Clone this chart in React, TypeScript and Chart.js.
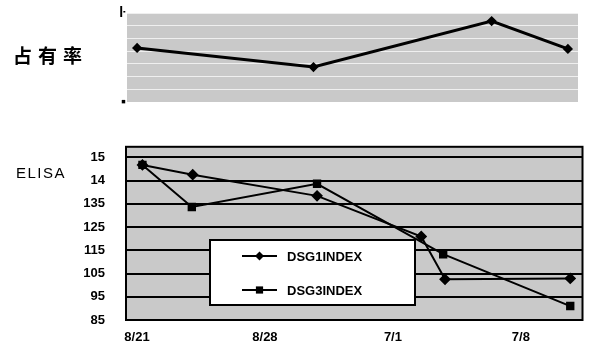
import { useEffect, useRef } from "react";
import { Chart, registerables } from "chart.js";

Chart.register(...registerables);

// 占有率 panel
const shareDays = [0, 9.6, 19.3, 23.45];
const shareValues = [60.7, 39.3, 91, 59.6];
const shareTickLabels = ["ŀ", "▪"]; // top, bottom

// ELISA panel
const dateTickDays = [0, 7, 14, 21];
const dateTickLabels = ["8/21", "8/28", "7/1", "7/8"];
const elisaTickValues = [8.5, 9.5, 10.5, 11.5, 12.5, 13.5, 14.5, 15.5];
const elisaTickLabels = ["85", "95", "105", "115", "125", "135", "14", "15"];
const seriesNames = ["DSG1INDEX", "DSG3INDEX"];
const dsg1Days = [0.3, 3.05, 9.85, 15.55, 16.85, 23.7];
const dsg1Values = [15.17, 14.75, 13.84, 12.09, 10.25, 10.29];
const dsg3Days = [0.3, 3.0, 9.85, 16.75, 23.7];
const dsg3Values = [15.17, 13.36, 14.36, 11.33, 9.1];

const SANS = "'Liberation Sans', Arial, sans-serif";
const PANEL_GRAY = "#c9c9c9";

const toPoints = (xs: number[], ys: number[]) => xs.map((x, i) => ({ x, y: ys[i] }));

// Fills the plotting area with the panel colour
const panelFill = {
  id: "panelFill",
  beforeDraw(chart: any, _args: any, opts: any) {
    const { ctx, chartArea: a } = chart;
    ctx.save();
    ctx.fillStyle = opts.color;
    ctx.fillRect(a.left, a.top, a.right - a.left, a.bottom - a.top);
    ctx.restore();
  },
};

// Black frame around the plotting area
const panelFrame = {
  id: "panelFrame",
  beforeDatasetsDraw(chart: any, _args: any, opts: any) {
    if (!opts.show) return;
    const { ctx, chartArea: a } = chart;
    ctx.save();
    ctx.strokeStyle = "#000";
    ctx.lineWidth = 2;
    ctx.strokeRect(a.left, a.top, a.right - a.left, a.bottom - a.top);
    ctx.restore();
  },
};

// Horizontal caption on the left of a panel
const sideCaption = {
  id: "sideCaption",
  afterDraw(chart: any, _args: any, opts: any) {
    const { ctx } = chart;
    ctx.save();
    ctx.font = opts.font;
    ctx.fillStyle = "#000";
    ctx.textAlign = "left";
    ctx.textBaseline = "middle";
    if ("letterSpacing" in ctx) (ctx as any).letterSpacing = opts.spacing || "0px";
    ctx.fillText(opts.text, opts.x, opts.y);
    ctx.restore();
  },
};

// Boxed legend sitting inside the plot
const boxLegend = {
  id: "boxLegend",
  afterDraw(chart: any, _args: any, o: any) {
    const { ctx } = chart;
    ctx.save();
    ctx.fillStyle = "#fff";
    ctx.fillRect(o.x, o.y, o.w, o.h);
    ctx.strokeStyle = "#000";
    ctx.lineWidth = 2;
    ctx.strokeRect(o.x, o.y, o.w, o.h);
    chart.data.datasets.forEach((ds: any, i: number) => {
      const y = o.y + o.row0 + i * o.rowGap;
      ctx.strokeStyle = "#000";
      ctx.lineWidth = 2;
      ctx.beginPath();
      ctx.moveTo(o.x + o.lineFrom, y);
      ctx.lineTo(o.x + o.lineTo, y);
      ctx.stroke();
      const cx = o.x + (o.lineFrom + o.lineTo) / 2;
      const r = ds.pointRadius;
      ctx.fillStyle = "#000";
      ctx.beginPath();
      if (ds.pointStyle === "rectRot") {
        ctx.moveTo(cx, y - r);
        ctx.lineTo(cx + r, y);
        ctx.lineTo(cx, y + r);
        ctx.lineTo(cx - r, y);
        ctx.closePath();
      } else {
        ctx.rect(cx - r * 0.8, y - r * 0.8, r * 1.6, r * 1.6);
      }
      ctx.fill();
      ctx.font = o.font;
      ctx.textAlign = "left";
      ctx.textBaseline = "middle";
      ctx.fillText(ds.label, o.x + o.textX, y + 1);
    });
    ctx.restore();
  },
};

export default function App() {
  const topRef = useRef<HTMLCanvasElement>(null);
  const bottomRef = useRef<HTMLCanvasElement>(null);

  useEffect(() => {
    const shareTicks = Array.from({ length: 8 }, (_, i) => (i * 100) / 7);
    const top = new Chart(topRef.current!, {
      type: "line",
      data: {
        datasets: [
          {
            label: "占有率",
            data: toPoints(shareDays, shareValues),
            borderColor: "#000",
            backgroundColor: "#000",
            borderWidth: 3,
            pointStyle: "rectRot",
            pointRadius: 3,
            tension: 0,
          },
        ],
      },
      options: {
        responsive: false,
        animation: false,
        layout: { padding: { top: 13, right: 11, bottom: 16, left: 0 } },
        scales: {
          x: { type: "linear", display: false, min: -0.55, max: 24 },
          y: {
            min: 0,
            max: 100,
            afterBuildTicks: (s: any) => {
              s.ticks = shareTicks.map((v) => ({ value: v }));
            },
            afterFit: (s: any) => {
              s.width = 127;
            },
            ticks: {
              autoSkip: false,
              padding: 1,
              color: "#000",
              font: { family: SANS, size: 14, weight: "bold" },
              callback: (_v: any, i: number) =>
                i === shareTicks.length - 1 ? shareTickLabels[0] : i === 0 ? shareTickLabels[1] : "",
            },
            grid: { color: "rgba(255,255,255,0.7)", lineWidth: 1, drawTicks: false },
            border: { display: false },
          },
        },
        plugins: {
          legend: { display: false },
          tooltip: { enabled: false },
          panelFill: { color: PANEL_GRAY },
          panelFrame: { show: false },
          sideCaption: {
            text: "占有率",
            font: `bold 19px 'Noto Sans CJK SC', sans-serif`,
            spacing: "6px",
            x: 13,
            y: 56,
          },
        } as any,
      },
      plugins: [panelFill, panelFrame, sideCaption],
    });

    const bottom = new Chart(bottomRef.current!, {
      type: "line",
      data: {
        datasets: [
          {
            label: seriesNames[0],
            data: toPoints(dsg1Days, dsg1Values),
            borderColor: "#000",
            backgroundColor: "#000",
            borderWidth: 2,
            pointStyle: "rectRot",
            pointRadius: 4.5,
            tension: 0,
          },
          {
            label: seriesNames[1],
            data: toPoints(dsg3Days, dsg3Values),
            borderColor: "#000",
            backgroundColor: "#000",
            borderWidth: 2,
            pointStyle: "rect",
            pointRadius: 4.5,
            tension: 0,
          },
        ],
      },
      options: {
        responsive: false,
        animation: false,
        layout: { padding: { top: 15, right: 4, bottom: 0, left: 0 } },
        scales: {
          x: {
            type: "linear",
            min: -0.6,
            max: 24.37,
            afterBuildTicks: (s: any) => {
              s.ticks = dateTickDays.map((v) => ({ value: v }));
            },
            afterFit: (s: any) => {
              s.height = 34;
            },
            ticks: {
              autoSkip: false,
              maxRotation: 0,
              padding: 10,
              color: "#000",
              font: { family: SANS, size: 13, weight: "bold" },
              callback: (v: any) => dateTickLabels[dateTickDays.indexOf(v)] ?? "",
            },
            grid: { display: false, drawTicks: false },
            border: { display: false },
          },
          y: {
            min: 8.5,
            max: 15.95,
            afterBuildTicks: (s: any) => {
              s.ticks = elisaTickValues.map((v) => ({ value: v }));
            },
            afterFit: (s: any) => {
              s.width = 126;
            },
            ticks: {
              autoSkip: false,
              padding: 21,
              color: "#000",
              font: { family: SANS, size: 13, weight: "bold" },
              callback: (v: any) => elisaTickLabels[elisaTickValues.indexOf(v)] ?? "",
            },
            grid: { color: "#000", lineWidth: 2, drawTicks: false },
            border: { display: false },
          },
        },
        plugins: {
          legend: { display: false },
          tooltip: { enabled: false },
          panelFill: { color: PANEL_GRAY },
          panelFrame: { show: true },
          sideCaption: {
            text: "ELISA",
            font: `15px ${SANS}`,
            spacing: "1.5px",
            x: 16,
            y: 56,
          },
          boxLegend: {
            x: 210,
            y: 122,
            w: 205,
            h: 65,
            row0: 16,
            rowGap: 34,
            lineFrom: 32,
            lineTo: 67,
            textX: 77,
            font: `bold 13px ${SANS}`,
          },
        } as any,
      },
      plugins: [panelFill, panelFrame, sideCaption, boxLegend],
    });

    return () => {
      top.destroy();
      bottom.destroy();
    };
  }, []);

  return (
    <div
      style={{
        position: "absolute",
        left: 0,
        top: 0,
        width: 589,
        height: 354,
        background: "#fff",
        overflow: "hidden",
      }}
    >
      <canvas ref={topRef} width={589} height={118} style={{ position: "absolute", left: 0, top: 0 }} />
      <canvas ref={bottomRef} width={589} height={236} style={{ position: "absolute", left: 0, top: 118 }} />
    </div>
  );
}
